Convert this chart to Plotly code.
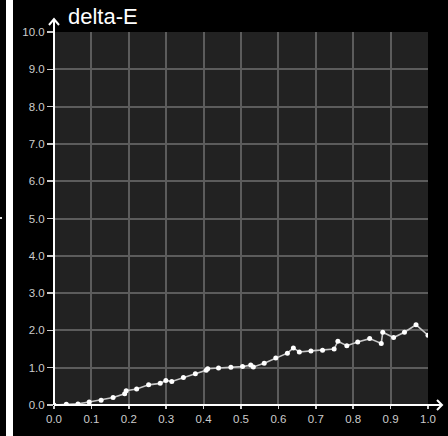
import plotly.graph_objects as go

# data
x_vals = [0.0, 0.033, 0.064, 0.094, 0.126, 0.158, 0.189, 0.193, 0.221, 0.253,
          0.284, 0.299, 0.315, 0.346, 0.378, 0.407, 0.411, 0.44, 0.473, 0.504,
          0.526, 0.533, 0.562, 0.593, 0.624, 0.64, 0.656, 0.687, 0.718, 0.749,
          0.759, 0.783, 0.812, 0.844, 0.875, 0.879, 0.908, 0.937, 0.968, 1.0]
delta_e = [0.0, 0.02, 0.03, 0.08, 0.13, 0.20, 0.30, 0.38, 0.43, 0.54,
           0.58, 0.66, 0.63, 0.74, 0.84, 0.93, 0.97, 0.99, 1.01, 1.03,
           1.07, 1.02, 1.12, 1.26, 1.39, 1.53, 1.42, 1.45, 1.47, 1.50,
           1.71, 1.59, 1.69, 1.78, 1.65, 1.95, 1.81, 1.95, 2.15, 1.87]
x_ticks = [i / 10 for i in range(11)]
y_ticks = list(range(11))
title_text = "delta-E"

FONT = "Arial, 'Liberation Sans', sans-serif"
W, H = 448, 436
L, R, T, B = 54, 20, 32, 31
PW, PH = W - L - R, H - T - B

fig = go.Figure()
fig.add_trace(go.Scatter(
    x=x_vals, y=delta_e, mode="lines+markers",
    line=dict(color="#c8c8c8", width=1.6),
    marker=dict(color="#ffffff", size=5),
    hoverinfo="skip", showlegend=False,
))

axis_common = dict(
    showgrid=True, gridcolor="#5c5c5c", gridwidth=2,
    zeroline=False, showline=False, automargin=False,
    ticks="outside", tickcolor="#cccccc", tickwidth=1.5,
    tickformat=".1f",
    tickfont=dict(family=FONT, size=11.5, color="#cccccc"),
)
fig.update_xaxes(range=[0, 1], tickvals=x_ticks, ticklen=3, **axis_common)
fig.update_yaxes(range=[0, 10], tickvals=y_ticks, ticklen=6, **axis_common)

def px_x(p):
    return (p - L) / PW

def px_y(p):
    return 1 - (p - T) / PH

shapes = []
# axis lines with arrow heads (pixel paths anchored at the plot's bottom-left corner)
shapes.append(dict(type="path", xref="paper", yref="paper", xsizemode="pixel", ysizemode="pixel",
                   xanchor=0, yanchor=0,
                   path="M 0,0 L 0,386 M -5,380 L 0,386 L 5,380",
                   line=dict(color="#ffffff", width=2), layer="above"))
shapes.append(dict(type="path", xref="paper", yref="paper", xsizemode="pixel", ysizemode="pixel",
                   xanchor=0, yanchor=0,
                   path="M 0,0 L 388,0 M 383,5 L 388,0 L 383,-5",
                   line=dict(color="#ffffff", width=2), layer="above"))
# white strip on the far left of the page
shapes.append(dict(type="rect", xref="paper", yref="paper",
                   x0=px_x(6), x1=px_x(13), y0=px_y(H), y1=px_y(0),
                   fillcolor="#ffffff", line=dict(width=0), layer="above"))
shapes.append(dict(type="rect", xref="paper", yref="paper",
                   x0=px_x(0), x1=px_x(2), y0=px_y(219), y1=px_y(217),
                   fillcolor="#dddddd", line=dict(width=0), layer="above"))

fig.update_layout(
    width=W, height=H,
    margin=dict(l=L, r=R, t=T, b=B, pad=0),
    paper_bgcolor="#000000", plot_bgcolor="#222222",
    font=dict(family=FONT, color="#ffffff"),
    shapes=shapes,
    hovermode=False,
    annotations=[dict(text=title_text, xref="paper", yref="paper",
                      x=px_x(66), y=px_y(31), xanchor="left", yanchor="bottom",
                      showarrow=False,
                      font=dict(family=FONT, size=22, color="#ffffff"))],
)

fig.write_html(
    "out.html",
    config={"displayModeBar": False, "staticPlot": True},
    post_script="document.body.style.margin='0';document.body.style.background='#000';"
                "document.body.style.overflow='hidden';"
                "document.documentElement.style.background='#000';"
                "document.documentElement.style.overflow='hidden';",
)
